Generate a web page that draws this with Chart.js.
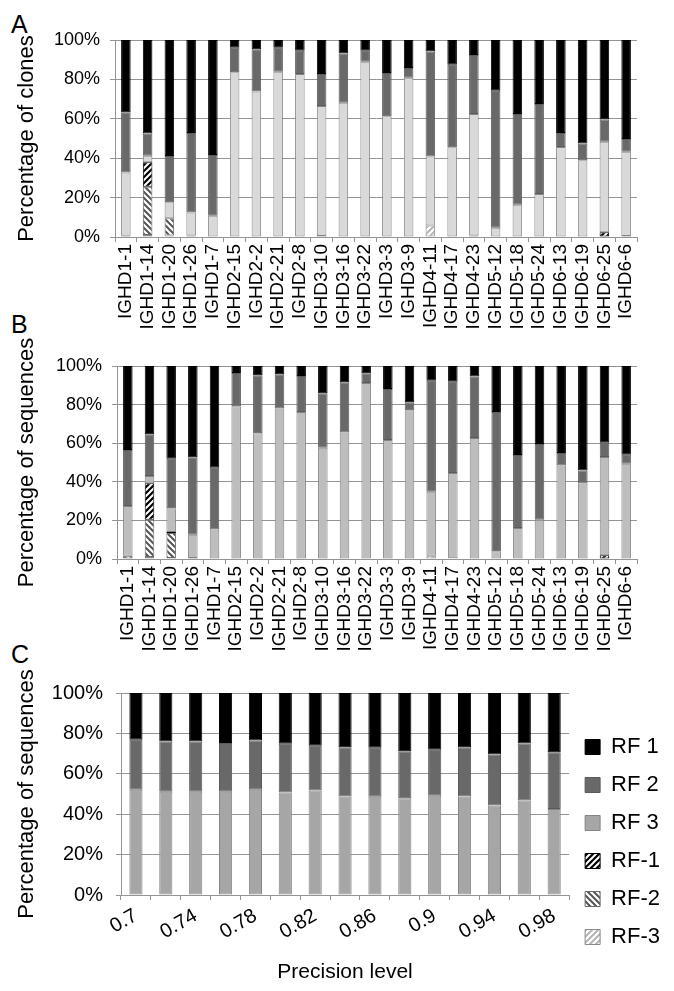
<!DOCTYPE html>
<html>
<head>
<meta charset="utf-8">
<script src="https://cdn.jsdelivr.net/npm/chart.js@4.4.0/dist/chart.umd.min.js"></script>
<style>
  body { margin: 0; background: #fff; }
  #page { position: relative; width: 674px; height: 991px; font-family: "Liberation Sans", Arial, sans-serif; }
  #page canvas { position: absolute; left: 0; }
  .panel { position: absolute; left: 11px; font-size: 25px; line-height: 25px; color: #000; }
</style>
</head>
<body>
<div id="page">
  <div class="panel" style="top:12px">A</div>
  <div class="panel" style="top:312px">B</div>
  <div class="panel" style="top:642px">C</div>
  <canvas id="chartA" width="674" height="330" style="top:0"></canvas>
  <canvas id="chartB" width="674" height="330" style="top:330px"></canvas>
  <canvas id="chartC" width="674" height="351" style="top:640px"></canvas>
</div>
<script>
const genes = [
  "IGHD1-1", "IGHD1-14", "IGHD1-20", "IGHD1-26", "IGHD1-7", "IGHD2-15",
  "IGHD2-2", "IGHD2-21", "IGHD2-8", "IGHD3-10", "IGHD3-16", "IGHD3-22",
  "IGHD3-3", "IGHD3-9", "IGHD4-11", "IGHD4-17", "IGHD4-23", "IGHD5-12",
  "IGHD5-18", "IGHD5-24", "IGHD6-13", "IGHD6-19", "IGHD6-25", "IGHD6-6",
];

// A: percentage of clones per reading frame
const clonesRFm3 = [0, 1.0, 0.8, 0, 0, 0, 0, 0, 0, 0, 0, 0, 0, 0, 5.8, 0, 0, 0, 0, 0, 0, 0, 0, 0];
const clonesRFm2 = [0.6, 24.5, 8.7, 0.7, 0, 0, 0, 0, 0, 0.5, 0, 0, 0, 0, 0, 0, 0.8, 0, 0, 0, 0, 0, 0, 0.5];
const clonesRFm1 = [0, 12.4, 0, 0, 0, 0, 0, 0, 0, 0, 0, 0, 0, 0, 0, 0, 0, 0, 0, 0, 0, 0, 2.4, 0];
const clonesRF3 = [32.2, 3.4, 8.1, 11.8, 10.8, 83.6, 73.8, 83.9, 82.7, 66.0, 68.2, 89.0, 61.3, 80.9, 35.0, 45.5, 61.6, 4.7, 16.4, 21.8, 45.7, 38.9, 46.0, 42.8];
const clonesRF2 = [30.5, 11.2, 23.5, 40.3, 30.8, 12.5, 21.5, 12.2, 11.9, 16.2, 25.0, 5.6, 21.9, 4.9, 53.3, 42.0, 30.0, 69.6, 46.0, 45.7, 7.1, 8.6, 11.3, 6.4];
const clonesRF1 = [36.7, 47.5, 58.9, 47.2, 58.4, 3.9, 4.7, 3.9, 5.4, 17.3, 6.8, 5.4, 16.8, 14.2, 5.9, 12.5, 7.6, 25.7, 37.6, 32.5, 47.2, 52.5, 40.3, 50.3];

// B: percentage of sequences per reading frame
const seqRFm3 = [0, 1.0, 0.5, 0, 0, 0, 0, 0, 0, 0, 0, 0, 0, 0, 1.7, 0, 0, 0, 0, 0, 0, 0, 0, 0];
const seqRFm2 = [1.7, 19.3, 13.0, 0.5, 0, 0, 0, 0, 0, 0, 0, 0, 0, 0, 0, 0.4, 0, 0, 0, 0, 0, 0, 0, 0];
const seqRFm1 = [0, 18.9, 0.5, 0, 0, 0, 0, 0, 0, 0, 0, 0, 0, 0, 0, 0, 0, 0, 0, 0, 0, 0, 2.0, 0];
const seqRF3 = [25.8, 3.8, 12.3, 12.1, 15.3, 79.2, 65.1, 78.0, 76.2, 57.7, 65.6, 91.2, 61.6, 77.1, 33.1, 44.2, 62.7, 4.0, 16.0, 20.3, 48.4, 39.1, 50.8, 49.4];
const seqRF2 = [29.0, 21.7, 25.7, 40.1, 32.0, 17.2, 30.1, 17.7, 18.6, 28.2, 26.0, 5.0, 26.5, 4.1, 57.6, 47.3, 31.8, 72.2, 37.9, 39.3, 6.5, 6.7, 7.4, 4.6];
const seqRF1 = [43.5, 35.3, 48.0, 47.3, 52.7, 3.6, 4.8, 4.3, 5.2, 14.1, 8.4, 3.8, 11.9, 18.8, 7.6, 8.1, 5.5, 23.8, 46.1, 40.4, 45.1, 54.2, 39.8, 46.0];

// C: sequences per reading frame by precision level
const precision = ["0.7", "0.72", "0.74", "0.76", "0.78", "0.8", "0.82", "0.84", "0.86", "0.88", "0.9", "0.92", "0.94", "0.96", "0.98"];
const precRFm3 = [0, 0, 0, 0, 0, 0, 0, 0, 0, 0, 0, 0, 0, 0, 0];
const precRFm2 = [0, 0, 0, 0, 0, 0, 0, 0, 0, 0, 0, 0, 0, 0, 0];
const precRFm1 = [0, 0, 0, 0, 0, 0, 0, 0, 0, 0, 0, 0, 0, 0, 0];
const precRF3 = [52.1, 51.1, 51.1, 51.1, 52.1, 50.7, 51.7, 48.8, 48.6, 47.9, 49.1, 48.8, 44.3, 46.8, 42.6];
const precRF2 = [24.8, 24.9, 24.9, 24.1, 24.4, 24.2, 22.2, 24.3, 24.3, 23.3, 22.8, 24.3, 25.3, 28.2, 28.1];
const precRF1 = [23.1, 24.0, 24.0, 24.8, 23.5, 25.1, 26.1, 26.9, 27.1, 28.8, 28.1, 26.9, 30.4, 25.0, 29.3];

const gridColor = "#949494";
Chart.defaults.font.family = '"Liberation Sans", Arial, sans-serif';
Chart.defaults.color = "#000";

// diagonal hatch fills for the negative frames
function hatch(bg, fg, up) {
  const c = document.createElement("canvas");
  c.width = 6;
  c.height = 6;
  const g = c.getContext("2d");
  g.fillStyle = bg;
  g.fillRect(0, 0, 6, 6);
  g.strokeStyle = fg;
  g.lineWidth = 2;
  g.beginPath();
  if (up) {
    g.moveTo(-1, 7); g.lineTo(7, -1);
    g.moveTo(-1, 1); g.lineTo(1, -1);
    g.moveTo(5, 7); g.lineTo(7, 5);
  } else {
    g.moveTo(-1, -1); g.lineTo(7, 7);
    g.moveTo(5, -1); g.lineTo(7, 1);
    g.moveTo(-1, 5); g.lineTo(1, 7);
  }
  g.stroke();
  return g.createPattern(c, "repeat");
}
const fillRFm1 = hatch("#000", "#fff", true);
const fillRFm2 = hatch("#fff", "#555", false);
const fillRFm3 = hatch("#fff", "#b4b4b4", true);

function stackSets(rfm3, rfm2, rfm1, rf3, rf2, rf1, rf3Color) {
  const common = {
    borderWidth: 1,
    borderSkipped: false,
    barPercentage: 1,
    categoryPercentage: 0.44,
  };
  return [
    { label: "RF-3", data: rfm3, backgroundColor: fillRFm3, borderColor: "#8a8a8a", ...common },
    { label: "RF-2", data: rfm2, backgroundColor: fillRFm2, borderColor: "#6a6a6a", ...common },
    { label: "RF-1", data: rfm1, backgroundColor: fillRFm1, borderColor: "#000", ...common },
    { label: "RF 3", data: rf3, backgroundColor: rf3Color, borderColor: "#858585", ...common },
    { label: "RF 2", data: rf2, backgroundColor: "#696969", borderColor: "#5a5a5a", ...common },
    { label: "RF 1", data: rf1, backgroundColor: "#000", borderColor: "#000", ...common },
  ];
}

function yAxis(title, width, fontSize, pad) {
  return {
    stacked: true,
    min: 0,
    max: 100,
    ticks: { stepSize: 20, padding: pad, font: { size: fontSize }, callback: (v) => v + "%" },
    grid: { color: gridColor, tickLength: 5 },
    border: { color: gridColor },
    title: { display: true, text: title, font: { size: 22 }, padding: { top: 14, bottom: 0 } },
    afterFit: (s) => { s.width = width; },
  };
}

function geneAxis(height) {
  return {
    stacked: true,
    grid: { offset: true, drawOnChartArea: false, tickLength: 5, color: gridColor },
    border: { color: gridColor },
    ticks: { autoSkip: false, minRotation: 90, maxRotation: 90, padding: 2, font: { size: 19 } },
    afterFit: (s) => { s.height = height; },
  };
}

new Chart(document.getElementById("chartA"), {
  type: "bar",
  data: {
    labels: genes,
    datasets: stackSets(clonesRFm3, clonesRFm2, clonesRFm1, clonesRF3, clonesRF2, clonesRF1, "#d9d9d9"),
  },
  options: {
    responsive: false,
    animation: false,
    layout: { padding: { top: 40, right: 37, left: 0, bottom: 0 } },
    plugins: { legend: { display: false }, tooltip: { enabled: false } },
    scales: {
      x: geneAxis(93),
      y: yAxis("Percentage of clones", 115, 18, 10),
    },
  },
});

new Chart(document.getElementById("chartB"), {
  type: "bar",
  data: {
    labels: genes,
    datasets: stackSets(seqRFm3, seqRFm2, seqRFm1, seqRF3, seqRF2, seqRF1, "#bdbdbd"),
  },
  options: {
    responsive: false,
    animation: false,
    layout: { padding: { top: 36, right: 37, left: 0, bottom: 0 } },
    plugins: { legend: { display: false }, tooltip: { enabled: false } },
    scales: {
      x: geneAxis(101),
      y: yAxis("Percentage of sequences", 117, 18, 10),
    },
  },
});

new Chart(document.getElementById("chartC"), {
  type: "bar",
  data: {
    labels: precision,
    datasets: stackSets(precRFm3, precRFm2, precRFm1, precRF3, precRF2, precRF1, "#a6a6a6"),
  },
  options: {
    responsive: false,
    animation: false,
    layout: { padding: { top: 53, right: 4, left: 0, bottom: 0 } },
    plugins: {
      tooltip: { enabled: false },
      legend: {
        position: "right",
        reverse: true,
        labels: { boxWidth: 15, boxHeight: 15, padding: 16, font: { size: 22 }, color: "#000" },
      },
    },
    scales: {
      x: {
        stacked: true,
        grid: { offset: true, drawOnChartArea: false, tickLength: 5, color: gridColor },
        border: { color: gridColor },
        ticks: {
          autoSkip: false,
          minRotation: 30,
          maxRotation: 30,
          padding: 4,
          font: { size: 20 },
          callback: function (v, i) { return i % 2 === 0 ? this.getLabelForValue(v) : ""; },
        },
        title: { display: true, text: "Precision level", font: { size: 21 }, padding: { top: 0, bottom: 6 } },
        afterFit: (s) => { s.height = 96; },
      },
      y: yAxis("Percentage of sequences", 121, 20, 13),
    },
  },
});
</script>
</body>
</html>
